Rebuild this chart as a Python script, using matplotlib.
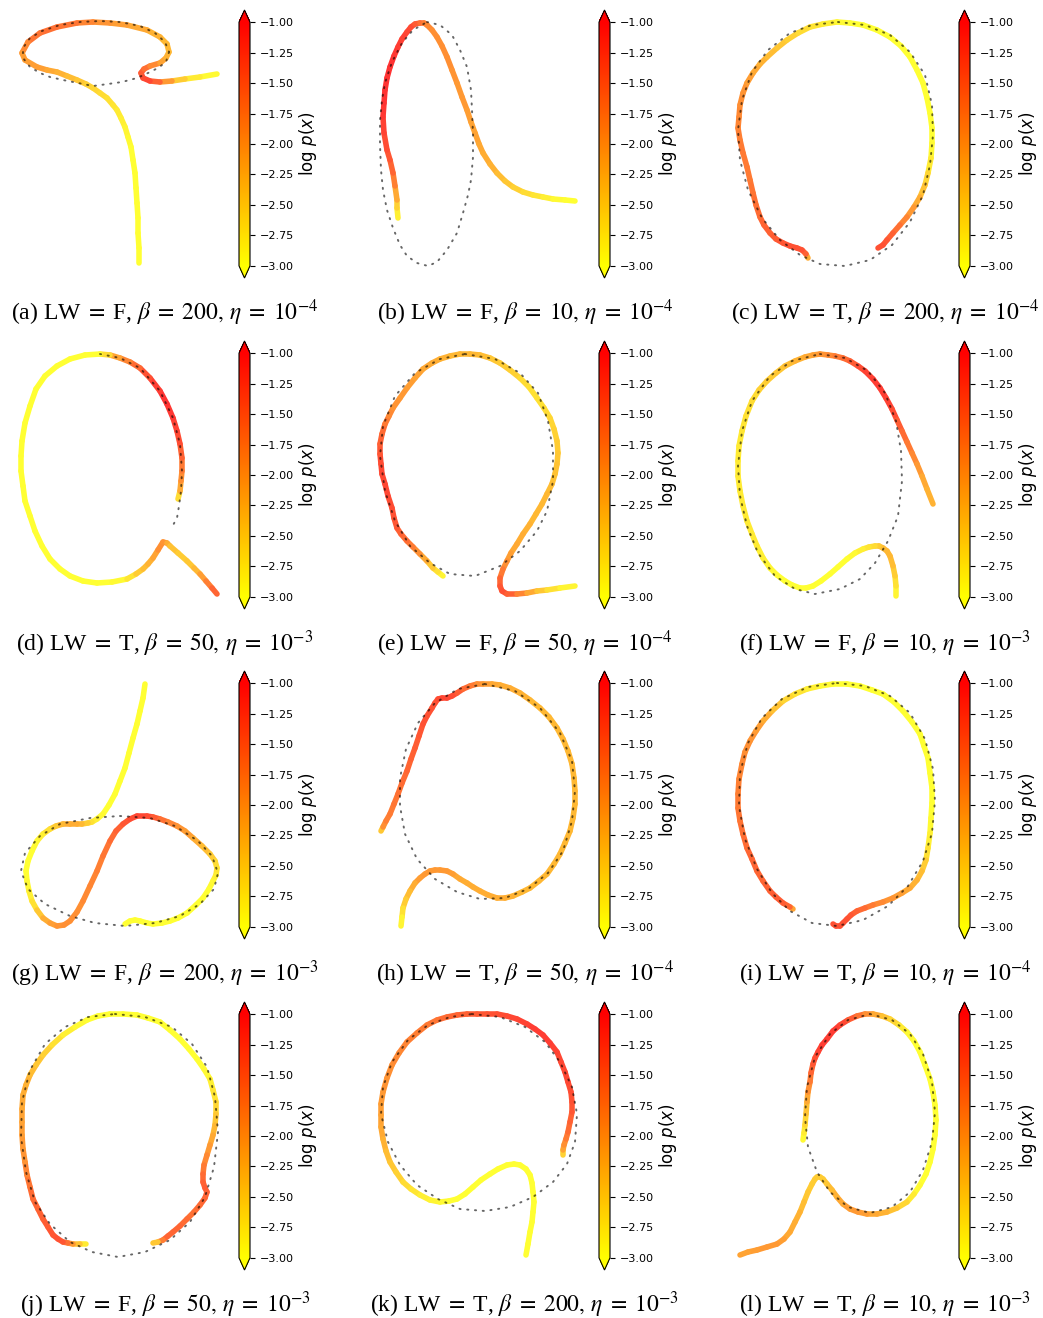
import numpy as np
import matplotlib.pyplot as plt
from matplotlib.collections import LineCollection
from matplotlib.colors import Normalize
from matplotlib.cm import ScalarMappable
from matplotlib.ticker import FuncFormatter

# ---- data (image-pixel coordinates inside each panel, log p(x) per waypoint) ----
LETTERS = ["a", "b", "c", "d", "e", "f", "g", "h", "i", "j", "k", "l"]
LW_FLAGS = ["F", "F", "T", "T", "F", "F", "F", "T", "T", "F", "T", "T"]
BETAS = [200, 10, 200, 50, 50, 10, 200, 50, 10, 50, 200, 10]
ETA_EXP = [-4, -4, -4, -3, -4, -3, -3, -4, -4, -3, -3, -3]
CBAR_TICKS = [-3.0, -2.75, -2.5, -2.25, -2.0, -1.75, -1.5, -1.25, -1.0]

CURVE_A = [(217, 74, -3.0), (200, 77, -2.9), (185, 79, -2.7), (172, 81, -2.3), (160, 82, -1.7), (150, 81, -1.2),
           (143, 78, -1.2), (141, 73, -1.3), (144, 69, -1.5), (150, 66, -1.7), (160, 63, -2.0), (166, 58, -2.2),
           (169, 52, -2.3), (167, 44, -2.3), (160, 37, -2.3), (147, 30, -2.2), (127, 25, -2.1), (110, 23, -2.0),
           (93, 22, -1.9), (77, 23, -1.7), (57, 27, -1.6), (40, 33, -1.6), (28, 42, -1.7), (22, 53, -2.0),
           (25, 60, -2.1), (37, 67, -2.0), (47, 70, -2.1), (57, 72, -2.2), (67, 76, -2.3), (77, 80, -2.4),
           (86, 84, -2.5), (93, 88, -2.6), (100, 93, -2.6), (107, 98, -2.7), (113, 105, -2.7), (117, 110, -2.8),
           (121, 118, -2.8), (125, 127, -2.9), (128, 137, -2.9), (131, 147, -3.0), (133, 160, -3.0),
           (135, 173, -3.0), (136, 188, -3.0), (137, 203, -3.0), (138, 218, -3.0), (138, 233, -3.0),
           (139, 248, -3.0), (139, 263, -3.0)]
DOTS_A = [(169, 52), (166, 62), (158, 68), (148, 73), (137, 78), (122, 82), (108, 84), (93, 86), (78, 83), (63, 80),
          (50, 77), (40, 73), (30, 67), (23, 58), (23, 48), (30, 38), (42, 31), (60, 25), (80, 22), (100, 21),
          (120, 22), (140, 26), (155, 33), (165, 42), (169, 52)]

CURVE_B = [(38, 218, -3.0), (37, 208, -2.7), (37, 200, -2.4), (35, 186, -1.9), (33, 173, -1.6), (30, 160, -1.4),
           (27, 150, -1.3), (24, 133, -1.2), (23, 117, -1.1), (24, 103, -1.0), (25, 90, -1.0), (27, 78, -1.0),
           (30, 67, -1.0), (34, 56, -1.0), (38, 47, -1.1), (42, 39, -1.1), (47, 32, -1.2), (51, 27, -1.2),
           (55, 24, -1.3), (60, 23, -1.5), (64, 23, -1.7), (67, 25, -1.8), (72, 30, -1.9), (77, 37, -1.9),
           (82, 46, -1.9), (87, 57, -1.9), (92, 70, -1.9), (97, 83, -2.0), (102, 97, -2.0), (107, 110, -2.0),
           (111, 122, -2.1), (115, 133, -2.1), (119, 144, -2.1), (123, 153, -2.2), (130, 164, -2.2),
           (137, 173, -2.3), (145, 181, -2.4), (153, 187, -2.5), (163, 192, -2.6), (173, 195, -2.7),
           (183, 197, -2.8), (193, 199, -2.9), (205, 200, -3.0), (215, 201, -3.0)]
DOTS_B = [(67, 22), (80, 25), (92, 35), (100, 50), (107, 67), (111, 90), (112, 110), (113, 135), (113, 157),
          (111, 180), (108, 195), (103, 213), (97, 233), (87, 250), (77, 262), (68, 266), (57, 263), (47, 256),
          (40, 245), (33, 228), (27, 210), (23, 190), (21, 170), (20, 145), (20, 120), (22, 100), (25, 83),
          (32, 62), (42, 43), (53, 30), (67, 22)]

CURVE_C = [(88, 258, -2.8), (86, 254, -1.6), (82, 250, -1.3), (77, 248, -1.3), (70, 246, -1.3), (63, 243, -1.3),
           (56, 239, -1.4), (50, 233, -1.4), (44, 225, -1.5), (40, 217, -1.5), (36, 205, -1.6), (33, 193, -1.6),
           (30, 180, -1.7), (27, 167, -1.7), (23, 153, -1.7), (20, 140, -1.7), (18, 128, -1.8), (19, 117, -1.8),
           (20, 105, -1.9), (23, 93, -1.9), (27, 83, -2.0), (33, 73, -2.1), (40, 64, -2.2), (47, 57, -2.3),
           (57, 48, -2.4), (67, 40, -2.5), (78, 33, -2.6), (90, 27, -2.7), (103, 24, -2.8), (117, 22, -2.9),
           (130, 23, -3.0), (143, 25, -3.0), (157, 30, -3.0), (170, 37, -3.0), (181, 46, -3.0), (190, 57, -3.0),
           (197, 70, -3.0), (203, 83, -3.0), (207, 98, -3.0), (210, 113, -3.0), (212, 128, -3.0),
           (212, 143, -3.0), (211, 158, -2.9), (208, 173, -2.7), (205, 185, -2.5), (200, 197, -2.3),
           (194, 207, -2.1), (187, 217, -1.9), (180, 225, -1.7), (173, 233, -1.5), (167, 240, -1.4),
           (163, 245, -1.3), (158, 248, -1.3)]
DOTS_C = [(118, 22), (145, 25), (170, 35), (190, 52), (205, 75), (212, 105), (213, 135), (210, 165), (203, 195),
          (190, 222), (172, 245), (150, 260), (125, 266), (100, 264), (80, 255), (60, 240), (42, 218), (28, 190),
          (20, 160), (18, 130), (22, 100), (32, 72), (48, 50), (70, 33), (92, 25), (118, 22)]

CURVE_D = [(178, 168, -3.0), (180, 160, -2.3), (181, 150, -2.0), (182, 140, -1.8), (182, 127, -1.6),
           (180, 113, -1.3), (177, 100, -1.2), (173, 87, -1.1), (167, 73, -1.0), (160, 60, -1.0), (150, 47, -1.2),
           (140, 37, -1.4), (130, 31, -1.7), (120, 27, -1.9), (110, 24, -2.3), (100, 23, -3.0), (85, 24, -3.0),
           (70, 28, -3.0), (57, 35, -3.0), (45, 45, -3.0), (36, 58, -3.0), (30, 75, -3.0), (25, 92, -3.0),
           (22, 110, -3.0), (21, 125, -3.0), (21, 140, -3.0), (23, 155, -3.0), (25, 170, -3.0), (30, 185, -3.0),
           (35, 200, -3.0), (42, 215, -3.0), (50, 228, -3.0), (60, 238, -3.0), (70, 245, -3.0), (83, 250, -3.0),
           (97, 252, -3.0), (112, 251, -3.0), (127, 248, -2.9), (136, 243, -2.6), (143, 238, -2.4),
           (148, 233, -2.3), (153, 227, -2.2), (158, 219, -2.0), (163, 211, -1.8), (167, 212, -2.1),
           (170, 215, -2.3), (178, 222, -2.5), (187, 230, -2.5), (194, 237, -2.4), (200, 243, -2.2),
           (206, 250, -1.9), (212, 257, -1.6), (217, 263, -1.4)]
DOTS_D = [(100, 23), (120, 27), (140, 37), (160, 60), (173, 87), (180, 113), (182, 140), (181, 160), (179, 175),
          (177, 187), (172, 196)]

CURVE_E = [(83, 245, -3.0), (78, 241, -2.8), (73, 237, -2.6), (67, 230, -2.3), (60, 223, -2.0), (53, 216, -1.8),
           (47, 210, -1.6), (41, 203, -1.5), (37, 197, -1.4), (34, 187, -1.3), (32, 177, -1.3), (28, 165, -1.2),
           (25, 153, -1.2), (22, 143, -1.2), (21, 133, -1.2), (20, 123, -1.3), (20, 113, -1.4), (22, 103, -1.5),
           (25, 93, -1.6), (29, 85, -1.8), (33, 77, -1.9), (40, 67, -2.0), (47, 57, -2.0), (55, 47, -2.1),
           (63, 38, -2.1), (72, 32, -2.2), (80, 28, -2.2), (90, 25, -2.3), (100, 23, -2.3), (110, 23, -2.3),
           (120, 24, -2.3), (130, 27, -2.4), (140, 32, -2.5), (150, 39, -2.5), (160, 47, -2.6), (169, 56, -2.7),
           (177, 67, -2.7), (184, 77, -2.7), (190, 87, -2.6), (194, 98, -2.6), (197, 110, -2.5), (198, 122, -2.5),
           (197, 133, -2.4), (195, 143, -2.4), (192, 153, -2.4), (187, 163, -2.3), (182, 173, -2.3),
           (176, 183, -2.3), (170, 193, -2.3), (163, 203, -2.2), (157, 213, -2.2), (151, 222, -2.1),
           (147, 230, -2.0), (143, 238, -1.8), (140, 247, -1.6), (140, 255, -1.4), (142, 260, -1.3),
           (147, 263, -1.3), (157, 263, -1.6), (167, 262, -2.0), (177, 260, -2.3), (187, 259, -2.6),
           (200, 257, -2.8), (215, 255, -3.0)]
DOTS_E = [(105, 23), (135, 28), (160, 42), (178, 62), (188, 90), (193, 120), (193, 150), (187, 180), (177, 200),
          (160, 220), (140, 235), (115, 245), (90, 243), (70, 232), (50, 215), (35, 190), (25, 160), (20, 125),
          (23, 95), (35, 65), (55, 42), (80, 28), (105, 23)]

CURVE_F = [(176, 265, -3.0), (176, 255, -2.8), (175, 245, -2.6), (173, 235, -2.4), (170, 225, -2.3),
           (167, 220, -2.3), (163, 217, -2.3), (159, 215, -2.4), (155, 215, -2.6), (149, 216, -2.7),
           (143, 218, -2.8), (135, 222, -2.9), (127, 228, -3.0), (118, 236, -3.0), (110, 243, -3.0),
           (101, 250, -3.0), (93, 255, -3.0), (86, 257, -3.0), (80, 257, -3.0), (72, 254, -3.0), (65, 250, -3.0),
           (57, 244, -3.0), (50, 237, -2.9), (43, 227, -2.9), (37, 215, -2.8), (32, 203, -2.8), (27, 190, -2.8),
           (23, 175, -2.8), (20, 160, -2.8), (18, 145, -2.8), (18, 130, -2.8), (19, 115, -2.8), (22, 100, -2.8),
           (26, 85, -2.7), (32, 70, -2.7), (39, 59, -2.6), (47, 50, -2.5), (56, 42, -2.5), (65, 35, -2.4),
           (75, 30, -2.3), (85, 26, -2.2), (93, 24, -2.1), (100, 23, -2.0), (108, 24, -1.9), (115, 25, -1.8),
           (123, 27, -1.6), (130, 30, -1.5), (138, 35, -1.3), (145, 40, -1.2), (153, 48, -1.1), (160, 57, -1.1),
           (166, 67, -1.1), (172, 78, -1.2), (177, 89, -1.3), (182, 100, -1.5), (187, 111, -1.6),
           (192, 122, -1.8), (197, 133, -1.9), (202, 145, -2.1), (207, 158, -2.2), (213, 173, -2.3)]
DOTS_F = [(100, 23), (125, 27), (148, 40), (165, 62), (176, 90), (181, 120), (182, 150), (178, 185), (168, 210),
          (155, 232), (140, 248), (120, 258), (95, 263), (75, 258), (55, 245), (38, 222), (27, 195), (20, 165),
          (18, 135), (22, 100), (32, 70), (50, 45), (72, 30), (100, 23)]

CURVE_G = [(145, 23, -3.0), (143, 37, -3.0), (140, 50, -3.0), (137, 63, -3.0), (133, 77, -3.0), (129, 92, -3.0),
           (125, 107, -3.0), (120, 120, -3.0), (115, 133, -3.0), (109, 144, -3.0), (103, 153, -3.0),
           (97, 158, -2.9), (92, 161, -2.8), (88, 162, -2.6), (82, 163, -2.4), (77, 163, -2.2), (70, 163, -2.2),
           (63, 163, -2.2), (56, 165, -2.4), (50, 168, -2.6), (43, 173, -2.8), (37, 180, -2.9), (32, 190, -3.0),
           (28, 200, -3.0), (26, 210, -3.0), (27, 220, -3.0), (29, 230, -2.9), (32, 240, -2.8), (37, 249, -2.6),
           (43, 257, -2.3), (50, 262, -2.1), (57, 265, -2.0), (64, 264, -1.9), (70, 260, -1.9), (77, 251, -1.9),
           (83, 240, -1.9), (90, 225, -1.8), (97, 210, -1.8), (103, 195, -1.7), (110, 180, -1.6),
           (116, 170, -1.5), (123, 163, -1.4), (130, 158, -1.3), (137, 155, -1.2), (147, 155, -1.2),
           (153, 156, -1.3), (160, 158, -1.5), (168, 161, -1.7), (177, 165, -1.9), (185, 170, -2.0),
           (193, 177, -2.1), (202, 185, -2.3), (210, 193, -2.4), (215, 200, -2.6), (217, 207, -2.7),
           (216, 214, -2.8), (213, 220, -2.9), (209, 228, -3.0), (203, 237, -3.0), (196, 244, -3.0),
           (187, 252, -3.0), (178, 257, -3.0), (170, 260, -3.0), (162, 262, -3.0), (153, 263, -3.0),
           (147, 262, -3.0), (140, 260, -3.0), (135, 259, -3.0), (130, 260, -3.0), (125, 263, -3.0)]
DOTS_G = [(120, 155), (150, 157), (175, 165), (198, 180), (212, 195), (218, 212), (214, 228), (200, 243),
          (180, 255), (155, 262), (125, 265), (95, 262), (70, 255), (45, 243), (28, 228), (21, 210), (25, 192),
          (40, 175), (60, 163), (90, 157), (120, 155)]

CURVE_H = [(21, 170, -2.9), (23, 166, -2.0), (26, 160, -1.8), (30, 153, -1.7), (34, 143, -1.7), (38, 133, -1.6),
           (42, 122, -1.6), (47, 110, -1.5), (51, 98, -1.5), (55, 87, -1.4), (59, 75, -1.4), (63, 63, -1.3),
           (67, 55, -1.3), (72, 47, -1.3), (75, 42, -1.3), (78, 38, -1.3), (82, 37, -1.2), (87, 37, -1.2),
           (92, 35, -1.2), (97, 32, -1.3), (103, 28, -1.5), (110, 25, -1.6), (117, 23, -1.8), (123, 23, -2.0),
           (132, 23, -2.1), (140, 24, -2.2), (150, 27, -2.2), (160, 32, -2.2), (170, 39, -2.3), (180, 47, -2.3),
           (189, 56, -2.3), (197, 67, -2.3), (203, 78, -2.3), (208, 90, -2.3), (212, 103, -2.3),
           (214, 117, -2.3), (215, 130, -2.3), (215, 143, -2.3), (213, 157, -2.3), (210, 170, -2.3),
           (205, 182, -2.3), (200, 193, -2.3), (194, 203, -2.3), (187, 213, -2.3), (179, 220, -2.3),
           (170, 227, -2.3), (162, 231, -2.3), (153, 235, -2.3), (145, 237, -2.2), (137, 237, -2.2),
           (128, 234, -2.2), (120, 230, -2.2), (113, 226, -2.2), (107, 222, -2.2), (100, 218, -2.2),
           (93, 213, -2.1), (87, 210, -2.0), (80, 209, -2.0), (75, 209, -2.0), (70, 210, -2.0), (65, 213, -2.0),
           (60, 217, -2.0), (55, 222, -2.1), (50, 230, -2.3), (46, 238, -2.4), (43, 247, -2.6), (42, 256, -2.8),
           (41, 265, -3.0)]
DOTS_H = [(125, 23), (155, 30), (180, 47), (200, 72), (212, 100), (215, 130), (212, 160), (203, 190), (188, 212),
          (168, 228), (145, 237), (120, 238), (97, 231), (75, 218), (57, 198), (45, 173), (40, 145), (40, 117),
          (46, 88), (58, 62), (75, 42), (98, 28), (125, 23)]

CURVE_I = [(73, 248, -2.6), (70, 246, -1.6), (63, 242, -1.4), (56, 236, -1.4), (50, 230, -1.4), (43, 220, -1.5),
           (37, 210, -1.5), (32, 198, -1.5), (27, 187, -1.5), (23, 173, -1.6), (20, 160, -1.6), (18, 147, -1.7),
           (18, 133, -1.7), (19, 118, -1.8), (22, 103, -1.8), (25, 91, -1.9), (30, 80, -1.9), (36, 70, -2.0),
           (43, 60, -2.1), (52, 50, -2.3), (63, 40, -2.5), (75, 33, -2.7), (87, 28, -2.8), (100, 25, -2.9),
           (113, 23, -3.0), (127, 23, -3.0), (140, 25, -3.0), (152, 29, -3.0), (163, 33, -3.0), (174, 41, -3.0),
           (183, 50, -3.0), (192, 61, -3.0), (200, 73, -3.0), (204, 85, -3.0), (208, 97, -3.0), (210, 112, -3.0),
           (212, 127, -3.0), (212, 142, -3.0), (211, 157, -3.0), (210, 172, -2.9), (208, 187, -2.8),
           (206, 199, -2.6), (202, 210, -2.4), (197, 219, -2.3), (190, 227, -2.2), (182, 232, -2.1),
           (173, 237, -2.0), (163, 241, -1.9), (153, 244, -1.8), (145, 247, -1.6), (137, 250, -1.5),
           (131, 254, -1.4), (127, 258, -1.3), (123, 262, -1.3), (120, 265, -1.3), (116, 265, -1.3),
           (113, 263, -1.3)]
DOTS_I = [(117, 22), (145, 25), (170, 35), (190, 52), (205, 78), (213, 108), (215, 140), (212, 172), (203, 200),
          (188, 225), (168, 245), (143, 259), (117, 265), (92, 262), (70, 250), (52, 232), (37, 208), (25, 178),
          (19, 145), (20, 112), (28, 82), (42, 57), (62, 38), (88, 26), (117, 22)]

CURVE_J = [(86, 252, -3.0), (80, 252, -2.6), (73, 252, -2.2), (68, 251, -1.8), (63, 250, -1.4), (58, 247, -1.3),
           (53, 243, -1.3), (48, 235, -1.4), (43, 227, -1.4), (38, 217, -1.5), (33, 207, -1.5), (30, 195, -1.6),
           (27, 183, -1.7), (25, 170, -1.9), (23, 157, -2.0), (22, 143, -2.0), (22, 130, -2.1), (22, 117, -2.1),
           (23, 103, -2.2), (26, 93, -2.2), (30, 83, -2.3), (36, 73, -2.4), (43, 63, -2.5), (52, 53, -2.6),
           (63, 43, -2.8), (75, 35, -2.9), (87, 28, -3.0), (98, 24, -3.0), (110, 22, -3.0), (123, 22, -3.0),
           (137, 23, -3.0), (148, 26, -3.0), (160, 30, -3.0), (170, 38, -3.0), (180, 47, -3.0), (189, 57, -3.0),
           (197, 67, -3.0), (204, 77, -3.0), (210, 87, -2.9), (213, 98, -2.8), (216, 110, -2.7),
           (216, 122, -2.5), (215, 133, -2.4), (213, 143, -2.2), (210, 153, -2.1), (207, 163, -1.9),
           (204, 173, -1.8), (203, 182, -1.6), (203, 190, -1.5), (205, 196, -1.4), (207, 200, -1.4),
           (205, 206, -1.5), (200, 213, -1.5), (194, 220, -1.6), (187, 227, -1.6), (180, 234, -1.5),
           (173, 240, -1.5), (168, 244, -1.5), (163, 248, -1.5), (158, 250, -2.0), (153, 251, -2.9)]
DOTS_J = [(115, 22), (145, 25), (172, 35), (192, 52), (207, 75), (215, 105), (218, 140), (214, 175), (205, 205),
          (190, 230), (170, 248), (145, 260), (118, 265), (92, 260), (70, 250), (50, 232), (35, 210), (26, 180),
          (21, 145), (22, 110), (30, 78), (45, 52), (65, 35), (88, 25), (115, 22)]

CURVE_K = [(203, 163, -2.9), (203, 158, -2.2), (204, 153, -2.0), (206, 147, -1.8), (208, 140, -1.6),
           (210, 130, -1.5), (212, 120, -1.4), (212, 110, -1.3), (211, 100, -1.3), (208, 90, -1.2),
           (205, 80, -1.2), (201, 70, -1.2), (197, 60, -1.2), (190, 51, -1.1), (183, 43, -1.1), (175, 37, -1.1),
           (167, 32, -1.1), (157, 27, -1.2), (147, 24, -1.2), (137, 22, -1.3), (127, 22, -1.3), (117, 22, -1.4),
           (107, 22, -1.4), (97, 23, -1.5), (87, 25, -1.5), (77, 28, -1.6), (67, 33, -1.7), (57, 41, -1.7),
           (47, 50, -1.8), (39, 61, -1.8), (32, 73, -1.9), (27, 86, -1.9), (23, 100, -2.0), (21, 112, -2.0),
           (21, 123, -2.1), (21, 135, -2.1), (23, 147, -2.2), (26, 159, -2.3), (30, 170, -2.4), (36, 180, -2.5),
           (43, 190, -2.6), (51, 197, -2.7), (60, 203, -2.8), (70, 208, -2.9), (80, 210, -2.9), (89, 209, -3.0),
           (97, 207, -3.0), (105, 202, -3.0), (113, 195, -3.0), (121, 188, -3.0), (130, 182, -3.0),
           (138, 177, -3.0), (147, 173, -3.0), (154, 172, -3.0), (160, 173, -3.0), (166, 177, -3.0),
           (170, 183, -3.0), (172, 191, -3.0), (173, 200, -3.0), (174, 210, -3.0), (173, 220, -3.0),
           (172, 230, -3.0), (170, 240, -3.0), (168, 252, -3.0), (166, 263, -3.0)]
DOTS_K = [(112, 22), (140, 25), (165, 35), (185, 50), (200, 70), (212, 95), (217, 122), (215, 150), (207, 172),
          (193, 190), (173, 205), (150, 215), (125, 219), (100, 217), (78, 207), (57, 193), (40, 173), (28, 150),
          (21, 122), (23, 95), (32, 70), (48, 48), (68, 33), (90, 25), (112, 22)]

CURVE_L = [(83, 148, -3.0), (84, 141, -2.9), (85, 133, -2.7), (86, 122, -2.5), (87, 110, -2.3), (88, 100, -2.0),
           (90, 90, -1.8), (91, 81, -1.6), (93, 72, -1.4), (95, 66, -1.3), (98, 60, -1.2), (102, 53, -1.1),
           (107, 47, -1.1), (113, 39, -1.1), (120, 33, -1.1), (128, 28, -1.3), (137, 24, -1.5), (145, 22, -1.8),
           (153, 22, -2.0), (162, 24, -2.3), (170, 27, -2.5), (179, 33, -2.7), (187, 40, -2.9), (194, 49, -3.0),
           (200, 60, -3.0), (205, 73, -3.0), (210, 87, -3.0), (213, 100, -3.0), (215, 113, -3.0),
           (216, 128, -3.0), (215, 143, -3.0), (213, 157, -3.0), (210, 170, -3.0), (206, 182, -3.0),
           (200, 193, -3.0), (194, 202, -2.9), (187, 210, -2.7), (177, 216, -2.5), (167, 220, -2.3),
           (157, 222, -2.2), (147, 222, -2.1), (138, 220, -2.0), (130, 217, -2.0), (123, 212, -2.1),
           (117, 205, -2.2), (112, 198, -2.3), (107, 192, -2.4), (103, 187, -2.5), (100, 185, -2.5),
           (97, 185, -2.5), (95, 187, -2.5), (92, 192, -2.5), (88, 200, -2.5), (84, 210, -2.4), (80, 220, -2.3),
           (75, 230, -2.2), (70, 240, -2.2), (64, 247, -2.1), (57, 252, -2.0), (47, 255, -2.0), (37, 258, -2.0),
           (28, 260, -2.1), (20, 263, -2.1)]
DOTS_L = [(150, 22), (172, 28), (190, 42), (203, 62), (212, 90), (215, 120), (212, 150), (203, 178), (190, 200),
          (172, 215), (150, 221), (128, 215), (110, 200), (97, 180), (88, 155), (85, 125), (87, 95), (95, 65),
          (110, 42), (128, 28), (150, 22)]

CURVES = [CURVE_A, CURVE_B, CURVE_C, CURVE_D, CURVE_E, CURVE_F,
          CURVE_G, CURVE_H, CURVE_I, CURVE_J, CURVE_K, CURVE_L]
DOTS = [DOTS_A, DOTS_B, DOTS_C, DOTS_D, DOTS_E, DOTS_F,
        DOTS_G, DOTS_H, DOTS_I, DOTS_J, DOTS_K, DOTS_L]

# ---- layout (pixels) ----
W, H = 1043, 1318
col_off = [0, 360, 720]
row_off = [0, 331, 661, 992]

fig = plt.figure(figsize=(W / 100, H / 100), dpi=100)
cmap = plt.get_cmap('autumn_r')
norm = Normalize(vmin=-3, vmax=-1)
sm = ScalarMappable(norm=norm, cmap=cmap)


def px_axes(x, y, w, h):
    return fig.add_axes([x / W, 1 - (y + h) / H, w / W, h / H])


def soften(rgba, k=0.8):
    # look of a semi-transparent line on white, without overlap artefacts
    rgba = np.array(rgba)
    rgba[:, :3] = k * rgba[:, :3] + (1 - k)
    return rgba


minus_fmt = FuncFormatter(lambda v, _: f"{v:.2f}".replace('-', '\u2212'))

for i in range(12):
    r, c = divmod(i, 3)
    x0, y0 = col_off[c], row_off[r]

    ax = px_axes(x0, y0, 240, 280)
    ax.set_xlim(0, 240)
    ax.set_ylim(280, 0)
    ax.axis('off')

    curve = np.array(CURVES[i], dtype=float)
    pts = curve[:, :2]
    segs = np.stack([pts[:-1], pts[1:]], axis=1)
    vals = (curve[:-1, 2] + curve[1:, 2]) / 2
    lc = LineCollection(segs, colors=soften(cmap(norm(vals))), linewidths=4.0,
                        capstyle='round', zorder=2)
    ax.add_collection(lc)

    dots = np.array(DOTS[i], dtype=float)
    ax.plot(dots[:, 0], dots[:, 1], color='k', lw=1.4, ls=(0, (0.6, 3.4)),
            dash_capstyle='round', alpha=0.6, zorder=3)

    # colorbar
    cax = px_axes(x0 + 239, y0 + 10, 11, 268)
    cb = fig.colorbar(sm, cax=cax, extend='both', ticks=CBAR_TICKS)
    cb.ax.yaxis.set_major_formatter(minus_fmt)
    cb.ax.tick_params(labelsize=8, length=3.5, width=0.8)
    cb.outline.set_linewidth(0.8)
    cb.set_label(r'$\log\, p(x)$', fontsize=12, labelpad=2)

    # caption
    cap = f"({LETTERS[i]}) LW$\\;=\\;${LW_FLAGS[i]}, "
    cap += f"$\\beta\\;=\\;{BETAS[i]},\\,\\eta\\;=\\;10^{{{ETA_EXP[i]}}}$"
    fig.text((x0 + 165) / W, 1 - (y0 + 320) / H, cap, ha='center', va='baseline',
             fontsize=17, family='Liberation Serif', math_fontfamily='stix')

fig.savefig('out.png', dpi=100)
